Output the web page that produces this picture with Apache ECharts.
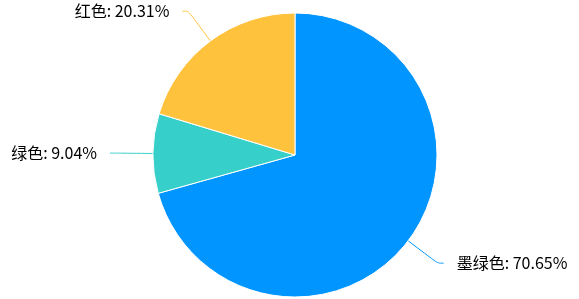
<!DOCTYPE html>
<html><head><meta charset="utf-8">
<script src="https://cdn.jsdelivr.net/npm/echarts@6/dist/echarts.min.js"></script>
<style>html,body{margin:0;padding:0;background:#fff}#c{width:579px;height:299px}</style>
</head><body><div id="c"></div>
<script>
const names = ['墨绿色', '绿色', '红色'];
const values = [70.65, 9.04, 20.31];
const colors = ['#0095FF', '#36CFC9', '#FFC23D'];
const chart = echarts.init(document.getElementById('c'));
chart.setOption({
  animation: false,
  color: colors,
  series: [{
    type: 'pie',
    center: [295, 155],
    radius: 142,
    startAngle: 90,
    clockwise: true,
    itemStyle: { borderColor: '#fff', borderWidth: 1 },
    label: { formatter: '{b}: {d}%', color: '#000', fontSize: 16, fontFamily: 'Noto Sans CJK SC', distanceToLabelLine: 13 },
    labelLine: { length: 37, length2: 6, smooth: true },
    data: names.map((n, i) => ({ name: n, value: values[i] }))
  }]
});
</script></body></html>
